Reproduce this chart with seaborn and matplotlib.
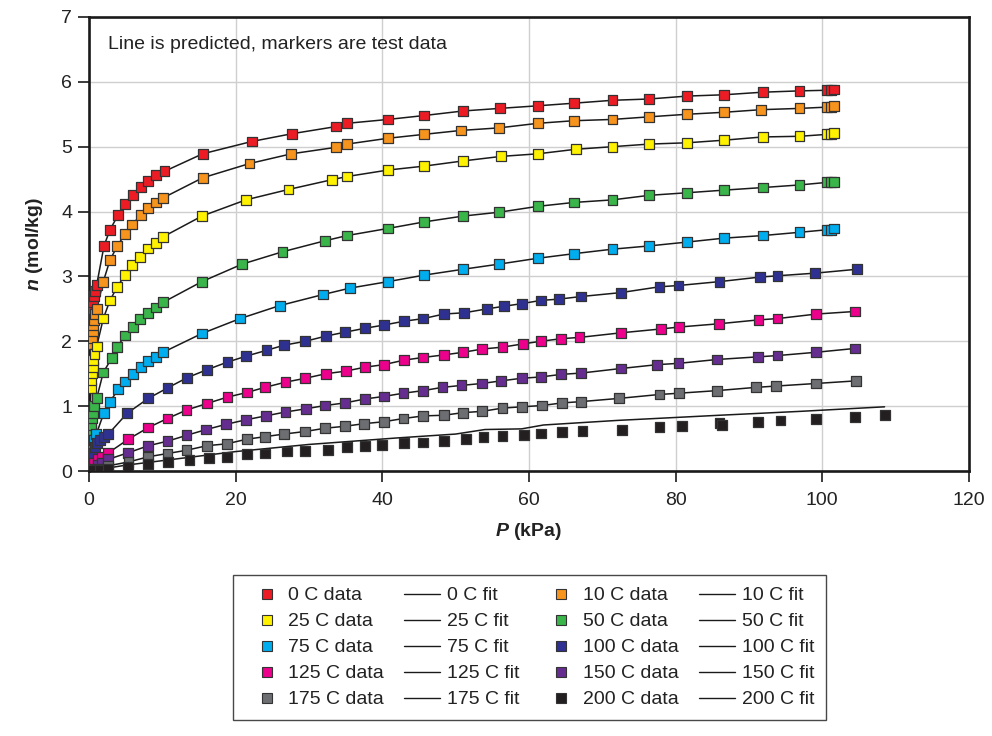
import numpy as np
import pandas as pd
import matplotlib
matplotlib.use("Agg")
import matplotlib.pyplot as plt
from matplotlib.lines import Line2D
from matplotlib.legend_handler import HandlerLine2D
import seaborn as sns

# ---- data ----
temps = ["0 C", "10 C", "25 C", "50 C", "75 C", "100 C", "125 C", "150 C", "175 C", "200 C"]
colors = ["#ED1C24", "#F7941D", "#FFF200", "#39B54A", "#00AEEF",
          "#2E3192", "#EC008C", "#662D91", "#6D6E71", "#231F20"]

p_0 = [0.3, 0.45, 0.59, 0.68, 0.78, 1.05, 2.05, 2.86, 4.0, 4.9, 6.05, 7.1, 8.1, 9.1, 10.3, 15.5, 22.2, 27.7,
       33.7, 35.2, 40.8, 45.7, 51.0, 56.0, 61.2, 66.1, 71.4, 76.4, 81.6, 86.6, 91.9, 96.9, 100.7, 101.2, 101.6]
n_0 = [2.35, 2.5, 2.6, 2.7, 2.78, 2.87, 3.47, 3.72, 3.95, 4.12, 4.25, 4.38, 4.47, 4.56, 4.62, 4.89, 5.08, 5.2,
       5.31, 5.36, 5.42, 5.48, 5.55, 5.59, 5.63, 5.67, 5.715, 5.735, 5.78, 5.80, 5.84, 5.86, 5.87, 5.87, 5.88]

p_10 = [0.3, 0.4, 0.5, 0.6, 0.7, 0.85, 1.05, 1.95, 2.86, 3.86, 4.9, 5.9, 7.09, 8.09, 9.14, 10.1, 15.5, 21.9,
        27.6, 33.7, 35.2, 40.8, 45.7, 50.7, 55.95, 61.2, 66.1, 71.4, 76.4, 81.6, 86.6, 91.6, 96.9, 100.7, 101.2, 101.6]
n_10 = [1.95, 2.05, 2.15, 2.25, 2.33, 2.42, 2.5, 2.92, 3.25, 3.47, 3.65, 3.80, 3.95, 4.05, 4.14, 4.21, 4.52, 4.74,
        4.89, 4.99, 5.04, 5.13, 5.19, 5.25, 5.29, 5.36, 5.40, 5.42, 5.46, 5.50, 5.53, 5.57, 5.59, 5.61, 5.61, 5.63]

p_25 = [0.25, 0.35, 0.42, 0.5, 0.58, 0.75, 1.05, 1.95, 2.86, 3.86, 4.9, 5.9, 6.95, 8.09, 9.14, 10.1, 15.4, 21.4,
        27.2, 33.1, 35.2, 40.8, 45.7, 51.0, 56.2, 61.2, 66.4, 71.4, 76.4, 81.6, 86.6, 91.9, 96.9, 100.7, 101.2, 101.6]
n_25 = [1.28, 1.40, 1.51, 1.61, 1.71, 1.81, 1.92, 2.35, 2.63, 2.84, 3.02, 3.18, 3.30, 3.43, 3.51, 3.61, 3.93, 4.18,
        4.34, 4.49, 4.54, 4.64, 4.70, 4.78, 4.85, 4.89, 4.96, 5.00, 5.04, 5.06, 5.10, 5.15, 5.16, 5.19, 5.20, 5.21]

p_50 = [0.25, 0.3, 0.4, 0.5, 0.65, 1.05, 1.95, 3.1, 3.86, 4.9, 6.05, 6.95, 8.09, 9.14, 10.1, 15.4, 20.9, 26.4,
        32.2, 35.2, 40.8, 45.7, 51.0, 55.95, 61.2, 66.1, 71.4, 76.4, 81.6, 86.6, 91.9, 96.9, 100.7, 101.2, 101.6]
n_50 = [0.63, 0.71, 0.81, 0.89, 1.00, 1.12, 1.52, 1.74, 1.91, 2.09, 2.22, 2.34, 2.44, 2.52, 2.60, 2.92, 3.19, 3.38,
        3.55, 3.63, 3.74, 3.84, 3.93, 3.99, 4.08, 4.14, 4.18, 4.25, 4.29, 4.33, 4.37, 4.41, 4.45, 4.45, 4.45]

p_75 = [0.2, 0.35, 0.5, 0.7, 1.0, 2.05, 2.86, 4.0, 4.9, 6.05, 7.09, 8.09, 9.14, 10.1, 15.4, 20.6, 26.0, 31.9,
        35.6, 40.8, 45.7, 51.0, 55.95, 61.2, 66.1, 71.4, 76.4, 81.6, 86.6, 91.9, 96.9, 100.7, 101.2, 101.6]
n_75 = [0.25, 0.35, 0.42, 0.48, 0.57, 0.90, 1.07, 1.26, 1.38, 1.49, 1.60, 1.69, 1.76, 1.83, 2.12, 2.35, 2.55, 2.72,
        2.82, 2.92, 3.02, 3.11, 3.19, 3.28, 3.35, 3.42, 3.47, 3.53, 3.59, 3.63, 3.68, 3.72, 3.72, 3.74]

p_100 = [0.3, 0.5, 0.8, 1.1, 1.5, 2.05, 2.64, 5.2, 8.09, 10.7, 13.4, 16.05, 18.9, 21.4, 24.2, 26.6, 29.5, 32.3,
         34.9, 37.6, 40.2, 43.0, 45.6, 48.4, 51.2, 54.3, 56.6, 59.0, 61.6, 64.1, 67.1, 72.5, 77.8, 80.4, 86.0,
         91.5, 93.9, 99.0, 104.7]
n_100 = [0.18, 0.28, 0.37, 0.43, 0.48, 0.53, 0.57, 0.89, 1.12, 1.28, 1.44, 1.56, 1.68, 1.77, 1.86, 1.94, 2.00, 2.08,
         2.14, 2.20, 2.25, 2.31, 2.35, 2.42, 2.44, 2.50, 2.54, 2.58, 2.63, 2.65, 2.69, 2.75, 2.84, 2.86, 2.92,
         2.99, 3.01, 3.05, 3.11]

p_125 = [0.3, 0.7, 1.2, 1.8, 2.64, 5.36, 8.09, 10.7, 13.3, 16.05, 18.9, 21.5, 24.0, 26.8, 29.5, 32.3, 35.0, 37.6,
         40.2, 43.0, 45.5, 48.4, 51.0, 53.6, 56.4, 59.2, 61.6, 64.4, 66.9, 72.5, 78.0, 80.5, 85.9, 91.3, 93.9,
         99.2, 104.5]
n_125 = [0.06, 0.12, 0.18, 0.22, 0.28, 0.49, 0.67, 0.81, 0.94, 1.04, 1.14, 1.21, 1.29, 1.37, 1.43, 1.50, 1.54, 1.60,
         1.64, 1.71, 1.75, 1.79, 1.83, 1.88, 1.91, 1.96, 2.00, 2.04, 2.06, 2.13, 2.19, 2.22, 2.27, 2.33, 2.35,
         2.42, 2.46]

p_150 = [0.5, 1.2, 1.8, 2.6, 5.3, 8.09, 10.7, 13.3, 16.0, 18.7, 21.4, 24.1, 26.8, 29.6, 32.2, 34.9, 37.6, 40.2,
         42.9, 45.6, 48.2, 50.8, 53.6, 56.2, 59.0, 61.6, 64.4, 67.1, 72.5, 77.5, 80.4, 85.7, 91.2, 93.9, 99.1, 104.5]
n_150 = [0.04, 0.09, 0.13, 0.18, 0.28, 0.39, 0.46, 0.55, 0.64, 0.72, 0.79, 0.85, 0.91, 0.96, 1.01, 1.05, 1.11, 1.15,
         1.20, 1.24, 1.29, 1.32, 1.35, 1.39, 1.43, 1.45, 1.49, 1.51, 1.58, 1.64, 1.66, 1.72, 1.76, 1.78, 1.83, 1.89]

p_175 = [0.5, 1.2, 2.6, 5.4, 8.09, 10.7, 13.3, 16.05, 18.8, 21.5, 24.0, 26.6, 29.5, 32.2, 34.9, 37.5, 40.2, 42.9,
         45.6, 48.4, 51.0, 53.6, 56.4, 59.0, 61.8, 64.5, 67.1, 72.3, 77.8, 80.5, 85.7, 91.0, 93.7, 99.2, 104.6]
n_175 = [0.02, 0.04, 0.08, 0.14, 0.22, 0.27, 0.32, 0.39, 0.42, 0.49, 0.53, 0.57, 0.61, 0.66, 0.69, 0.73, 0.76, 0.81,
         0.85, 0.86, 0.90, 0.92, 0.97, 0.99, 1.01, 1.05, 1.07, 1.12, 1.18, 1.20, 1.24, 1.29, 1.31, 1.35, 1.39]

p_200 = [0.6, 1.5, 2.6, 5.3, 8.09, 10.8, 13.7, 16.4, 18.8, 21.6, 24.0, 27.0, 29.5, 32.6, 35.2, 37.6, 40.0, 43.0,
         45.6, 48.4, 51.4, 53.8, 56.4, 59.3, 61.6, 64.5, 67.3, 72.7, 77.8, 80.9, 86.0, 86.3, 91.2, 94.3, 99.1,
         104.5, 108.6]
n_200 = [0.01, 0.02, 0.03, 0.07, 0.11, 0.14, 0.17, 0.20, 0.22, 0.26, 0.27, 0.30, 0.31, 0.33, 0.37, 0.39, 0.40, 0.43,
         0.44, 0.46, 0.49, 0.52, 0.54, 0.56, 0.58, 0.60, 0.62, 0.63, 0.68, 0.70, 0.735, 0.71, 0.755, 0.78, 0.80,
         0.83, 0.86]

# 200 C prediction sits above its test data
p_fit_200 = [0, 5, 10, 20, 30, 42, 50, 54, 59, 62, 72, 86, 97, 108.5]
n_fit_200 = [0, 0.09, 0.16, 0.30, 0.41, 0.51, 0.57, 0.64, 0.65, 0.71, 0.78, 0.86, 0.92, 0.99]

p_all = [p_0, p_10, p_25, p_50, p_75, p_100, p_125, p_150, p_175, p_200]
n_all = [n_0, n_10, n_25, n_50, n_75, n_100, n_125, n_150, n_175, n_200]

# long-form tables
data = pd.concat([pd.DataFrame({"series": t, "P": p, "n": n})
                  for t, p, n in zip(temps, p_all, n_all)], ignore_index=True)

fits = []
for t, p, n in zip(temps, p_all, n_all):
    if t == "200 C":
        fits.append(pd.DataFrame({"series": t, "P": p_fit_200, "n": n_fit_200}))
    else:
        # other predictions run through the test points from the origin
        fits.append(pd.DataFrame({"series": t, "P": [0] + p, "n": [0] + n}))
fit = pd.concat(fits, ignore_index=True)

# ---- plot ----
sns.set_style("white")
plt.rcParams["font.family"] = ["Liberation Sans", "DejaVu Sans"]
plt.rcParams["mathtext.fontset"] = "custom"
plt.rcParams["mathtext.it"] = "Liberation Sans:italic:bold"
FS = 14
TXT = "#222222"

fig = plt.figure(figsize=(9.92, 7.36), dpi=100)
ax = fig.add_axes([0.0897, 0.36, 0.887, 0.617])

sns.lineplot(data=fit, x="P", y="n", units="series", estimator=None, sort=False,
             color="#1a1a1a", linewidth=1.1, legend=False, ax=ax, zorder=2)
sns.scatterplot(data=data, x="P", y="n", hue="series", hue_order=temps, palette=colors,
                marker="s", s=50, edgecolor="#333333", linewidth=0.9, legend=False, ax=ax, zorder=3)

ax.set_xlim(0, 120)
ax.set_ylim(0, 7)
ax.set_xticks(range(0, 121, 20))
ax.set_yticks(range(0, 8))
ax.grid(True, color="#cfcfcf", linewidth=1.0)
ax.set_axisbelow(True)
for s in ax.spines.values():
    s.set_color("#1a1a1a")
    s.set_linewidth(1.9)
ax.tick_params(axis="both", direction="out", length=8, width=1.2, color="#1a1a1a", pad=4,
               labelsize=FS, labelcolor=TXT, left=True, bottom=True)
ax.tick_params(axis="x", pad=7)

ax.set_xlabel("$P$ (kPa)", fontsize=FS, fontweight="bold", color=TXT, labelpad=9)
ax.set_ylabel("$n$ (mol/kg)", fontsize=FS, fontweight="bold", color=TXT, labelpad=12)

ax.text(2.6, 6.57, "Line is predicted, markers are test data", fontsize=FS,
        color=TXT, va="center", ha="left")


# legend markers sit a little right of the handle centre, as in the original
class MarkerRight(HandlerLine2D):
    def create_artists(self, legend, orig_handle, xdescent, ydescent, width, height, fontsize, trans):
        arts = super().create_artists(legend, orig_handle, xdescent, ydescent, width, height, fontsize, trans)
        for a in arts:
            a.set_xdata([0.6 * width - xdescent])
        return arts


def data_handle(c):
    return Line2D([], [], linestyle="none", marker="s", markersize=6.5,
                  markerfacecolor=c, markeredgecolor="#333333", markeredgewidth=0.8)


def fit_handle():
    return Line2D([], [], color="#1a1a1a", linewidth=1.0)


# legend rows read (data, fit, data, fit)
col_a = [0, 2, 4, 6, 8]
col_b = [1, 3, 5, 7, 9]
handles, labels, hmap = [], [], {}
for group in (col_a, col_b):
    for idx in group:
        h = data_handle(colors[idx])
        hmap[h] = MarkerRight(numpoints=1)
        handles.append(h)
        labels.append(temps[idx] + " data")
    for idx in group:
        handles.append(fit_handle())
        labels.append(temps[idx] + " fit")

leg = fig.legend(handles, labels, ncol=4, loc="upper left", bbox_to_anchor=(0.235, 0.219),
                 borderaxespad=0, handler_map=hmap,
                 fontsize=FS, frameon=True, fancybox=False, edgecolor="#1a1a1a",
                 handlelength=1.85, handletextpad=0.35, columnspacing=1.05,
                 labelspacing=0.43, borderpad=0.62, labelcolor=TXT)
leg.get_frame().set_linewidth(1.0)

fig.savefig("out.png", dpi=100)
